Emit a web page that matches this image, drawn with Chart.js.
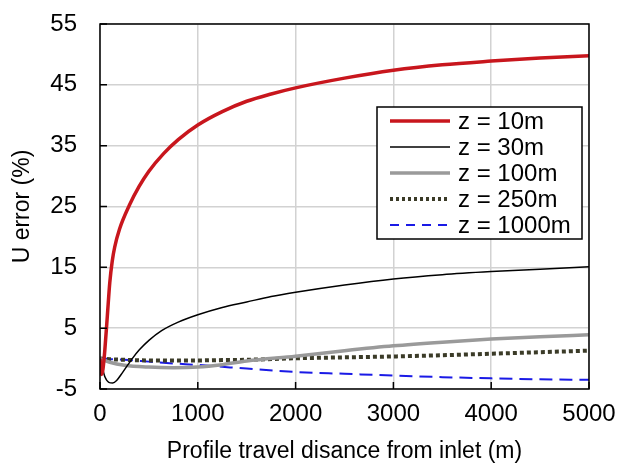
<!DOCTYPE html>
<html>
<head>
<meta charset="utf-8">
<script src="https://cdn.jsdelivr.net/npm/chart.js@4.4.0/dist/chart.umd.min.js"></script>
<style>
  html, body { margin: 0; padding: 0; background: #fff; }
</style>
</head>
<body>
<canvas id="myChart" width="621" height="469"></canvas>
<script>
// distance along the profile (m) and error (%) for each height
var z10X = [0, 15, 30, 50, 75, 100, 125, 150, 200, 300, 400, 500, 650, 800, 1000, 1250, 1500, 1750, 2000, 2500, 3000, 3500, 4000, 4500, 5000];
var z10Y = [0, -2.6, -1.8, 1.5, 7, 12.5, 16.0, 18.3, 21.3, 25.2, 28.3, 30.8, 33.7, 36.0, 38.4, 40.6, 42.3, 43.5, 44.5, 46.1, 47.4, 48.3, 48.9, 49.4, 49.8];

var z30X = [0, 20, 50, 90, 130, 170, 230, 330, 400, 500, 630, 800, 1000, 1250, 1500, 1750, 2000, 2500, 3000, 3500, 4000, 4500, 5000];
var z30Y = [0, -1.2, -3.0, -3.9, -4.0, -3.6, -2.3, 0, 1.4, 3.0, 4.6, 6.0, 7.2, 8.4, 9.3, 10.2, 10.9, 12.1, 13.1, 13.8, 14.3, 14.7, 15.1];

var farX = [0, 100, 250, 500, 750, 1000, 1250, 1500, 2000, 2500, 3000, 3500, 4000, 4500, 5000];
var z100Y = [0, -0.6, -1.1, -1.4, -1.5, -1.4, -1.0, -0.4, 0.4, 1.3, 2.1, 2.7, 3.2, 3.6, 3.9];
var z250Y = [0, -0.1, -0.2, -0.3, -0.3, -0.3, -0.25, -0.2, 0.05, 0.2, 0.35, 0.55, 0.8, 1.05, 1.3];
var z1000Y = [0.05, -0.1, -0.2, -0.5, -0.8, -1.05, -1.35, -1.65, -2.2, -2.5, -2.8, -3.05, -3.25, -3.4, -3.5];

var seriesNames = ['z = 10m', 'z = 30m', 'z = 100m', 'z = 250m', 'z = 1000m'];

function pairs(xs, ys) {
  return xs.map(function (x, i) { return { x: x, y: ys[i] }; });
}

var FONT = '"Liberation Sans", Arial, sans-serif';

// black inward tick marks plus the frame around the plot
var frameTicks = {
  id: 'frameTicks',
  afterDraw: function (chart) {
    var ctx = chart.ctx;
    var a = chart.chartArea;
    var xs = chart.scales.x, ys = chart.scales.y;
    ctx.save();
    ctx.strokeStyle = '#000';
    ctx.lineWidth = 1.5;
    ctx.beginPath();
    xs.ticks.forEach(function (t) {
      var px = xs.getPixelForValue(t.value);
      ctx.moveTo(px, a.bottom);
      ctx.lineTo(px, a.bottom - 7);
    });
    ys.ticks.forEach(function (t) {
      var py = ys.getPixelForValue(t.value);
      ctx.moveTo(a.left, py);
      ctx.lineTo(a.left + 7, py);
    });
    ctx.stroke();
    ctx.strokeRect(a.left, a.top, a.right - a.left, a.bottom - a.top);
    ctx.restore();
  }
};

// legend box inside the plot, upper right
var boxLegend = {
  id: 'boxLegend',
  afterDraw: function (chart) {
    var ctx = chart.ctx;
    var left = 377, top = 107, w = 205, h = 132;
    ctx.save();
    ctx.fillStyle = '#fff';
    ctx.fillRect(left, top, w, h);
    ctx.strokeStyle = '#000';
    ctx.lineWidth = 1.5;
    ctx.strokeRect(left, top, w, h);
    chart.data.datasets.forEach(function (ds, i) {
      var y = top + 14 + i * 26;
      ctx.beginPath();
      ctx.strokeStyle = ds.borderColor;
      ctx.lineWidth = ds.borderWidth;
      ctx.setLineDash(ds.legendDash || []);
      ctx.moveTo(390, y);
      ctx.lineTo(450, y);
      ctx.stroke();
      ctx.setLineDash([]);
      ctx.fillStyle = '#000';
      ctx.font = '24px ' + FONT;
      ctx.textBaseline = 'middle';
      ctx.textAlign = 'left';
      ctx.fillText(ds.label, 458, y + 1);
    });
    ctx.restore();
  }
};

var data = {
  datasets: [
    {
      label: seriesNames[0],
      data: pairs(z10X, z10Y),
      borderColor: '#c8161d',
      borderWidth: 3.5
    },
    {
      label: seriesNames[1],
      data: pairs(z30X, z30Y),
      borderColor: '#000000',
      borderWidth: 1.5
    },
    {
      label: seriesNames[2],
      data: pairs(farX, z100Y),
      borderColor: '#9a9a9a',
      borderWidth: 3.5
    },
    {
      label: seriesNames[3],
      data: pairs(farX, z250Y),
      borderColor: '#3b3b28',
      borderWidth: 4,
      borderDash: [4, 3],
      legendDash: [3, 3]
    },
    {
      label: seriesNames[4],
      data: pairs(farX, z1000Y),
      borderColor: '#1a1ae6',
      borderWidth: 2,
      borderDash: [13, 7],
      legendDash: [9, 7]
    }
  ]
};

var options = {
  responsive: false,
  animation: false,
  layout: { padding: { left: 0, right: 32, top: 24, bottom: 0 } },
  elements: {
    point: { radius: 0 },
    line: { cubicInterpolationMode: 'monotone', fill: false }
  },
  plugins: {
    legend: { display: false },
    tooltip: { enabled: false }
  },
  scales: {
    x: {
      type: 'linear',
      min: 0,
      max: 5000,
      afterFit: function (s) {
        s.height = 80;
        s.paddingLeft = 0;
        s.paddingRight = 0;
      },
      ticks: {
        stepSize: 1000,
        padding: 11,
        color: '#000',
        maxRotation: 0,
        font: { family: FONT, size: 24 },
        callback: function (v) { return String(v); }
      },
      grid: { color: '#d2d2d2', lineWidth: 1.5, drawTicks: false },
      border: { display: false },
      title: {
        display: true,
        text: 'Profile travel disance from inlet (m)',
        color: '#000',
        font: { family: FONT, size: 23 },
        padding: { top: 0, bottom: 4 }
      }
    },
    y: {
      type: 'linear',
      min: -5,
      max: 55,
      afterFit: function (s) {
        s.width = 100;
        s.paddingTop = 0;
        s.paddingBottom = 0;
      },
      ticks: {
        stepSize: 10,
        padding: 23,
        color: '#000',
        font: { family: FONT, size: 24 },
        callback: function (v) { return String(v); }
      },
      grid: { color: '#d2d2d2', lineWidth: 1.5, drawTicks: false },
      border: { display: false },
      title: {
        display: true,
        text: 'U error (%)',
        color: '#000',
        font: { family: FONT, size: 23 },
        padding: { top: 9, bottom: 0 }
      }
    }
  }
};

var ctx = document.getElementById('myChart').getContext('2d');

var myChart = new Chart(ctx, {
  type: 'line',
  data: data,
  options: options,
  plugins: [frameTicks, boxLegend]
});
</script>
</body>
</html>
